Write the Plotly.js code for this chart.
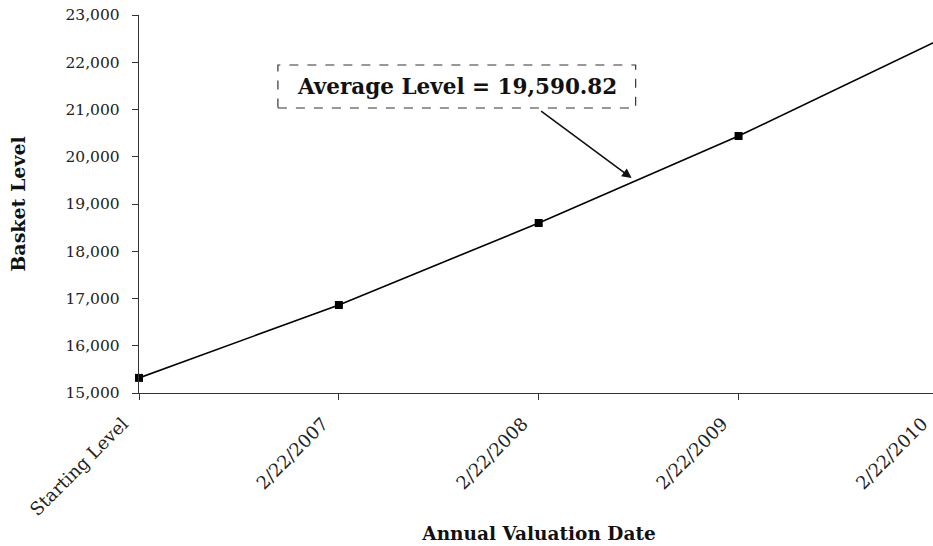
<!DOCTYPE html>
<html>
<head>
<meta charset="utf-8">
<script src="https://cdn.plot.ly/plotly-3.0.1.min.js"></script>
<style>
html, body { margin:0; padding:0; overflow:hidden; background:#fff; width:933px; height:546px; }
#chart { width:940px; height:546px; }
</style>
</head>
<body>
<div id="chart"></div>
<script>
const categories = ["Starting Level", "2/22/2007", "2/22/2008", "2/22/2009", "2/22/2010"];
const basketLevels = [15320, 16862, 18598, 20439, 22464];
const yTickValues = [15000, 16000, 17000, 18000, 19000, 20000, 21000, 22000, 23000];
const yTickLabels = ["15,000", "16,000", "17,000", "18,000", "19,000", "20,000", "21,000", "22,000", "23,000"];
const averageLabel = "Average Level = 19,590.82";

const serif = "'DejaVu Serif', 'Liberation Serif', serif";

const trace = {
  x: [0, 1, 2, 3, 4],
  y: basketLevels,
  type: "scatter",
  mode: "lines+markers",
  line: { color: "#000", width: 1.6 },
  marker: { symbol: "square", size: 8, color: "#000" },
  cliponaxis: false,
  hoverinfo: "skip"
};

const layout = {
  width: 940,
  height: 546,
  margin: { l: 139, r: 1, t: 15, b: 153 },
  paper_bgcolor: "#fff",
  plot_bgcolor: "#fff",
  showlegend: false,
  font: { family: serif, color: "#222" },
  xaxis: {
    range: [-0.0001, 4.003],
    tickmode: "array",
    tickvals: [0, 1, 2, 3, 4],
    ticktext: categories,
    tickangle: -45,
    ticks: "outside",
    ticklen: 6,
    tickcolor: "#333",
    showline: true,
    linecolor: "#333",
    linewidth: 1.2,
    showgrid: false,
    zeroline: false,
    ticklabeloverflow: "allow",
    ticklabelstandoff: 6,
    ticklabelshift: -16,
    tickfont: { family: serif, size: 18, color: "#222" },
    title: { text: "<b>Annual Valuation Date</b>", font: { family: serif, size: 18.5, color: "#111" }, standoff: 8 }
  },
  yaxis: {
    range: [15000, 23000],
    tickmode: "array",
    tickvals: yTickValues,
    ticktext: yTickLabels,
    ticks: "outside",
    ticklen: 6,
    tickcolor: "#333",
    showline: true,
    linecolor: "#333",
    linewidth: 1.2,
    showgrid: false,
    zeroline: false,
    ticklabelstandoff: 9,
    tickfont: { family: serif, size: 15.5, color: "#222" },
    title: { text: "<b>Basket Level</b>", font: { family: serif, size: 19, color: "#111" }, standoff: 34 }
  },
  shapes: [{
    type: "rect",
    xref: "x", yref: "y",
    x0: 0.695, x1: 2.485,
    y0: 21032, y1: 21942,
    line: { color: "#333", width: 1.2, dash: "dash" },
    fillcolor: "rgba(255,255,255,0)"
  }],
  annotations: [
    {
      xref: "x", yref: "y",
      x: 1.59, y: 21487,
      text: "<b>" + averageLabel + "</b>",
      showarrow: false,
      font: { family: serif, size: 21.5, color: "#111" }
    },
    {
      xref: "x", yref: "y",
      x: 2.465, y: 19550,
      axref: "pixel", ayref: "pixel",
      ax: -92, ay: -68,
      text: "",
      showarrow: true,
      arrowhead: 2,
      arrowsize: 1.2,
      arrowwidth: 1.6,
      arrowcolor: "#111"
    }
  ]
};

Plotly.newPlot("chart", [trace], layout, { displayModeBar: false, staticPlot: true });
</script>
</body>
</html>
